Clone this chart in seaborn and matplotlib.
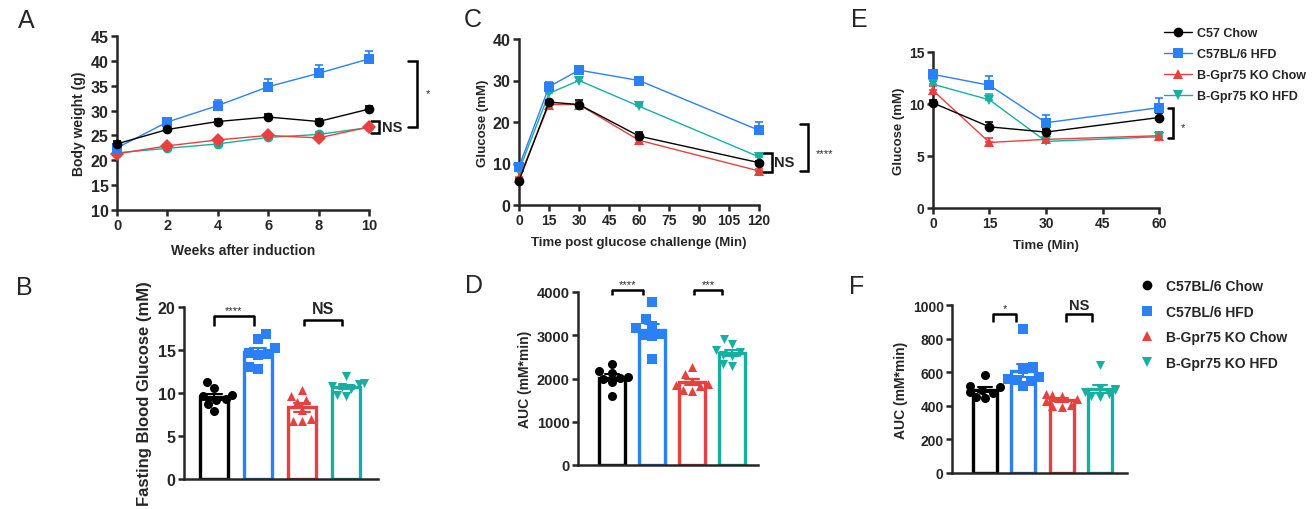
import numpy as np
import pandas as pd
import matplotlib
matplotlib.use('Agg')
import matplotlib.pyplot as plt
from matplotlib.lines import Line2D
import seaborn as sns

# groups and colours
line_groups = ['C57 Chow', 'C57BL/6 HFD', 'B-Gpr75 KO Chow', 'B-Gpr75 KO HFD']
bar_groups = ['C57BL/6 Chow', 'C57BL/6 HFD', 'B-Gpr75 KO Chow', 'B-Gpr75 KO HFD']
colors = ['#000000', '#2A80F4', '#E6403F', '#17AFA0']

# A: body weight (mean, SEM)
weeks = [0, 2, 4, 6, 8, 10]
bw_chow = [23.3, 26.2, 27.8, 28.7, 27.8, 30.3]
bw_hfd = [22.5, 27.7, 31.0, 34.8, 37.5, 40.4]
bw_ko_chow = [21.3, 22.9, 24.1, 25.0, 24.5, 26.7]
bw_ko_hfd = [21.5, 22.4, 23.3, 24.6, 25.2, 26.6]
bw_chow_err = [0.5, 0.4, 0.6, 0.6, 0.6, 0.7]
bw_hfd_err = [0.5, 0.6, 1.2, 1.5, 1.6, 1.6]
bw_ko_chow_err = [0.3, 0.3, 0.3, 0.3, 0.3, 0.3]
bw_ko_hfd_err = [0.3, 0.3, 0.3, 0.3, 0.4, 0.3]

# C: glucose tolerance (mean, SEM)
gtt_time = [0, 15, 30, 60, 120]
gtt_chow = [5.8, 24.8, 24.2, 16.6, 10.2]
gtt_hfd = [9.2, 28.5, 32.5, 30.0, 18.0]
gtt_ko_chow = [6.5, 24.2, 24.2, 15.6, 8.2]
gtt_ko_hfd = [8.3, 26.9, 30.0, 23.8, 11.6]
gtt_chow_err = [0.4, 0.6, 1.0, 1.0, 0.5]
gtt_hfd_err = [0.5, 1.2, 0.3, 0.5, 2.0]
gtt_ko_chow_err = [0.3, 0.5, 0.5, 0.6, 0.4]
gtt_ko_hfd_err = [0.4, 0.5, 0.5, 0.5, 0.4]

# E: insulin tolerance (mean, SEM)
itt_time = [0, 15, 30, 60]
itt_chow = [10.1, 7.8, 7.3, 8.7]
itt_hfd = [12.85, 11.8, 8.2, 9.65]
itt_ko_chow = [11.3, 6.3, 6.6, 6.95]
itt_ko_hfd = [11.9, 10.4, 6.4, 6.85]
itt_chow_err = [0.3, 0.5, 0.3, 0.4]
itt_hfd_err = [0.3, 0.9, 0.7, 0.9]
itt_ko_chow_err = [0.4, 0.4, 0.2, 0.4]
itt_ko_hfd_err = [0.3, 0.6, 0.2, 0.5]

# B: fasting blood glucose per mouse
fbg_chow = [11.3, 10.6, 9.8, 9.6, 9.3, 9.2, 8.7, 7.9]
fbg_hfd = [16.9, 16.3, 15.2, 14.7, 14.5, 14.4, 13.0, 12.8]
fbg_ko_chow = [10.3, 9.7, 9.2, 8.9, 8.0, 7.0, 6.8, 6.7]
fbg_ko_hfd = [12.0, 11.2, 11.1, 10.8, 10.7, 10.5, 9.8, 9.6]

# D: GTT AUC per mouse
gauc_chow = [2330, 2180, 2120, 2030, 2010, 2000, 1910, 1590]
gauc_hfd = [3780, 3380, 3220, 3160, 3030, 3010, 2990, 2450]
gauc_ko_chow = [2260, 2100, 1950, 1870, 1850, 1830, 1740, 1720]
gauc_ko_hfd = [2910, 2800, 2650, 2610, 2550, 2510, 2340, 2300]

# F: ITT AUC per mouse
iauc_chow = [585, 515, 510, 495, 485, 475, 450, 445]
iauc_hfd = [860, 630, 620, 570, 560, 555, 550, 515]
iauc_ko_chow = [470, 465, 460, 440, 430, 405, 400, 395]
iauc_ko_hfd = [645, 505, 500, 495, 480, 470, 460, 450]

W, H = 1313, 510
sns.set_style('ticks')
plt.rcParams['font.family'] = ['Liberation Sans', 'DejaVu Sans']
plt.rcParams['axes.linewidth'] = 1.8

fig = plt.figure(figsize=(W / 100, H / 100), dpi=100)


def rect(l, r, t, b):
    return [l / W, 1 - b / H, (r - l) / W, (b - t) / H]


def style_axis(ax, xsize, ysize):
    sns.despine(ax=ax)
    ax.tick_params(direction='out', length=4, width=1.8, pad=2)
    ax.tick_params(axis='x', labelsize=xsize)
    ax.tick_params(axis='y', labelsize=ysize)
    for lab in ax.get_xticklabels() + ax.get_yticklabels():
        lab.set_fontweight('bold')


def line_panel(ax, x, means, errs, markers):
    df = pd.DataFrame({
        'x': np.tile(x, len(means)),
        'y': np.concatenate(means),
        'group': np.repeat(line_groups, len(x)),
    })
    for m, e, c in zip(means, errs, colors):
        ax.errorbar(x, m, yerr=[np.zeros(len(e)), e], fmt='none', ecolor=c,
                    elinewidth=1.2, capsize=3, capthick=1.2, clip_on=False, zorder=2)
    order = line_groups[::-1]
    sns.lineplot(data=df, x='x', y='y', hue='group', style='group',
                 hue_order=order, style_order=order, palette=colors[::-1],
                 markers=dict(zip(line_groups, markers)), dashes=False,
                 linewidth=1, markersize=7, markeredgewidth=0,
                 legend=False, ax=ax, clip_on=False, zorder=3)


def bar_panel(ax, values, markers):
    df = pd.DataFrame({
        'group': np.repeat(bar_groups, [len(v) for v in values]),
        'value': np.concatenate(values),
    })
    sns.barplot(data=df, x='group', y='value', hue='group', order=bar_groups,
                hue_order=bar_groups, palette=colors, fill=False, errorbar='se',
                capsize=0.35, width=0.63, linewidth=2.4,
                err_kws={'linewidth': 1.5}, legend=False, ax=ax)
    for g, m, c in zip(bar_groups, markers, colors):
        sns.swarmplot(data=df[df['group'] == g], x='group', y='value',
                      order=bar_groups, marker=m, color=c, size=6.5, ax=ax,
                      zorder=3, clip_on=False)
    ax.set_xticks([])
    ax.set_xlabel('')


def hbracket(ax, x1, x2, y, h, text, size, weight, dy):
    ax.plot([x1, x1, x2, x2], [y - h, y, y, y - h], color='k', lw=1.8,
            clip_on=False, solid_capstyle='butt')
    ax.text((x1 + x2) / 2, y + dy, text, ha='center', va='bottom',
            fontsize=size, fontweight=weight)


def vbracket(ax, x1, x2, y1, y2, text, tx, ty, size, weight):
    ax.plot([x1, x2, x2, x1], [y1, y1, y2, y2], color='k', lw=1.8,
            clip_on=False, solid_joinstyle='miter')
    ax.text(tx, ty, text, ha='left', va='center', fontsize=size, fontweight=weight)


# ---- A
axA = fig.add_axes(rect(117, 369, 37, 211))
line_panel(axA, weeks, [bw_chow, bw_hfd, bw_ko_chow, bw_ko_hfd],
           [bw_chow_err, bw_hfd_err, bw_ko_chow_err, bw_ko_hfd_err],
           ['o', 's', 'D', 'o'])
axA.set_xlim(0, 10)
axA.set_ylim(10, 45)
axA.set_xticks(weeks)
axA.set_yticks(range(10, 46, 5))
axA.set_xlabel('Weeks after induction', fontsize=10, fontweight='bold', labelpad=8)
axA.set_ylabel('Body weight (g)', fontsize=10, fontweight='bold', labelpad=3)
style_axis(axA, 10.5, 11.5)
vbracket(axA, 11.55, 11.9, 40.0, 26.7, '*', 12.25, 33.6, 8, 'normal')
vbracket(axA, 10.08, 10.4, 27.9, 25.5, 'NS', 10.5, 26.7, 10.5, 'bold')

# ---- C
axC = fig.add_axes(rect(519, 759, 40, 206))
line_panel(axC, gtt_time, [gtt_chow, gtt_hfd, gtt_ko_chow, gtt_ko_hfd],
           [gtt_chow_err, gtt_hfd_err, gtt_ko_chow_err, gtt_ko_hfd_err],
           ['o', 's', '^', 'v'])
axC.set_xlim(0, 120)
axC.set_ylim(0, 40)
axC.set_xticks(range(0, 121, 15))
axC.set_yticks(range(0, 41, 10))
axC.set_xlabel('Time post glucose challenge (Min)', fontsize=9.5, fontweight='bold', labelpad=6)
axC.set_ylabel('Glucose (mM)', fontsize=9.5, fontweight='bold', labelpad=3)
style_axis(axC, 10, 11.5)
vbracket(axC, 140.5, 144.5, 19.4, 8.2, '****', 148.5, 12.6, 8, 'normal')
vbracket(axC, 122, 126.3, 12.5, 8.0, 'NS', 127.5, 10.3, 10.5, 'bold')

# ---- E
axE = fig.add_axes(rect(933, 1159, 53, 209))
line_panel(axE, itt_time, [itt_chow, itt_hfd, itt_ko_chow, itt_ko_hfd],
           [itt_chow_err, itt_hfd_err, itt_ko_chow_err, itt_ko_hfd_err],
           ['o', 's', '^', 'v'])
axE.set_xlim(0, 60)
axE.set_ylim(0, 15)
axE.set_xticks(range(0, 61, 15))
axE.set_yticks(range(0, 16, 5))
axE.set_xlabel('Time (Min)', fontsize=9.5, fontweight='bold', labelpad=6)
axE.set_ylabel('Glucose (mM)', fontsize=9.5, fontweight='bold', labelpad=3)
style_axis(axE, 10, 10)
vbracket(axE, 62.3, 63.7, 9.6, 6.75, '*', 65.8, 7.8, 8, 'normal')

handles_e = [Line2D([], [], color=c, marker=m, lw=1, ms=7, mew=0)
             for c, m in zip(colors, ['o', 's', '^', 'v'])]
fig.legend(handles_e, line_groups, loc='upper left',
           bbox_to_anchor=(1164 / W, 1 - 28 / H), frameon=False,
           prop={'size': 9, 'weight': 'bold'}, handlelength=2.2,
           handletextpad=0.45, labelspacing=0.73, borderpad=0, borderaxespad=0)

# ---- B
axB = fig.add_axes(rect(184, 378, 308, 480))
bar_panel(axB, [fbg_chow, fbg_hfd, fbg_ko_chow, fbg_ko_hfd], ['o', 's', '^', 'v'])
axB.set_xlim(-0.68, 3.72)
axB.set_ylim(0, 20)
axB.set_yticks(range(0, 21, 5))
axB.set_ylabel('Fasting Blood Glucose (mM)', fontsize=12, fontweight='bold', labelpad=4)
style_axis(axB, 11.5, 11.5)
axB.tick_params(axis='x', length=0)
hbracket(axB, 0, 0.9, 18.9, 1.1, '****', 8, 'normal', 0.2)
hbracket(axB, 2.05, 2.9, 18.5, 0.7, 'NS', 11.5, 'bold', 0.4)

# ---- D
axD = fig.add_axes(rect(578, 758, 293, 466))
bar_panel(axD, [gauc_chow, gauc_hfd, gauc_ko_chow, gauc_ko_hfd], ['o', 's', '^', 'v'])
axD.set_xlim(-0.85, 3.65)
axD.set_ylim(0, 4000)
axD.set_yticks(range(0, 4001, 1000))
axD.set_ylabel('AUC (mM*min)', fontsize=10, fontweight='bold', labelpad=3)
style_axis(axD, 10.5, 10.5)
axD.tick_params(axis='x', length=0)
hbracket(axD, 0, 0.78, 4046, 126, '****', 8, 'normal', 20)
hbracket(axD, 2.05, 2.75, 4046, 126, '***', 8, 'normal', 20)

# ---- F
axF = fig.add_axes(rect(952, 1127, 306, 474))
bar_panel(axF, [iauc_chow, iauc_hfd, iauc_ko_chow, iauc_ko_hfd], ['o', 's', '^', 'v'])
axF.set_xlim(-0.86, 3.7)
axF.set_ylim(0, 1000)
axF.set_yticks(range(0, 1001, 200))
axF.set_ylabel('AUC (mM*min)', fontsize=10, fontweight='bold', labelpad=3)
style_axis(axF, 10, 10)
axF.tick_params(axis='x', length=0)
hbracket(axF, 0.2, 0.82, 946, 47, '*', 8, 'normal', 8)
hbracket(axF, 2.12, 2.8, 946, 47, 'NS', 10.5, 'bold', 14)

handles_f = [Line2D([], [], color=c, marker=m, lw=0, ms=7, mew=0)
             for c, m in zip(colors, ['o', 's', '^', 'v'])]
fig.legend(handles_f, bar_groups, loc='upper left',
           bbox_to_anchor=(1140 / W, 1 - 280 / H), frameon=False,
           prop={'size': 10, 'weight': 'bold'}, handlelength=1.0,
           handletextpad=0.86, labelspacing=0.84, borderpad=0, borderaxespad=0)

# panel letters
for letter, (px, py) in {'A': (26, 21), 'B': (24, 288), 'C': (473, 20),
                         'D': (474, 286), 'E': (859, 20), 'F': (857, 287)}.items():
    fig.text(px / W, 1 - py / H, letter, ha='center', va='center', fontsize=18)

fig.savefig('out.png', dpi=100)
